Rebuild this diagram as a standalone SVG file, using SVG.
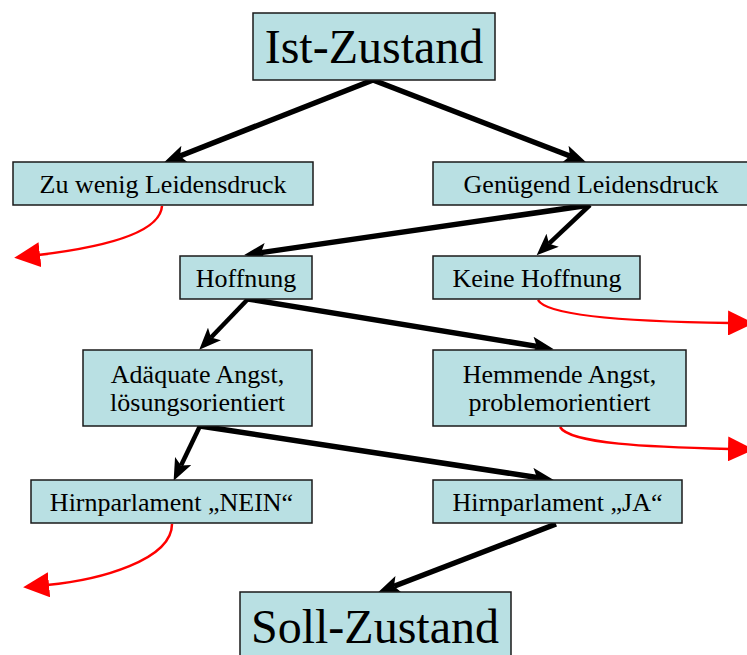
<svg xmlns="http://www.w3.org/2000/svg" width="747" height="655" viewBox="0 0 747 655">
<style>
.box{fill:#B9E0E3;stroke:#1a1a1a;stroke-width:1.5}
.t{font-family:"Liberation Serif","Times New Roman",serif;font-size:26px;fill:#000;text-anchor:middle}
.big{font-size:48px}
.blk{stroke:#000;stroke-width:5.5;fill:none;marker-end:url(#ah)}
.red{stroke:#ff0000;stroke-width:2.5;fill:none;marker-end:url(#rh)}
</style>
<defs>
<marker id="ah" markerUnits="userSpaceOnUse" viewBox="0 0 22 18" refX="5" refY="9" markerWidth="22" markerHeight="18" orient="auto">
<path d="M0,0 L22,9 L0,18 L5,9 z" fill="#000"/>
</marker>
<marker id="rh" markerUnits="userSpaceOnUse" viewBox="0 0 26 25" refX="2" refY="12.5" markerWidth="26" markerHeight="25" orient="auto">
<path d="M0,0 L26,12.5 L0,25 z" fill="#ff0000"/>
</marker>
</defs>
<g id="connectors">
<line class="blk" x1="373" y1="80" x2="180" y2="156"/>
<line class="blk" x1="373" y1="80" x2="570" y2="156"/>
<line class="blk" x1="590" y1="205" x2="261" y2="252.6"/>
<line class="blk" x1="590" y1="205" x2="549" y2="243.7" style="stroke-width:4.5"/>
<line class="blk" x1="248" y1="299" x2="211" y2="337.5" style="stroke-width:4.5"/>
<line class="blk" x1="248" y1="299" x2="537" y2="346.4"/>
<line class="blk" x1="200" y1="426" x2="181" y2="465.5" style="stroke-width:4.5"/>
<line class="blk" x1="200" y1="426" x2="537" y2="477.5"/>
<line class="blk" x1="556" y1="524" x2="394" y2="586.2"/>
<path class="red" d="M162,206 C160,238 80,250 38,255"/>
<path class="red" d="M538,300 C548,318 650,322 730,323"/>
<path class="red" d="M560,427 C570,444 650,447 730,449"/>
<path class="red" d="M172,524 C172,560 100,580 47,585"/>
</g>
<g id="ist"><rect class="box" x="253" y="13" width="242" height="67"/><text class="t big" x="374" y="63">Ist-Zustand</text></g>
<g id="zuwenig"><rect class="box" x="13" y="162" width="300" height="43"/><text class="t" x="163" y="193">Zu wenig Leidensdruck</text></g>
<g id="genuegend"><rect class="box" x="433" y="162" width="330" height="43"/><text class="t" x="591" y="193">Genügend Leidensdruck</text></g>
<g id="hoffnung"><rect class="box" x="180" y="256" width="132" height="43"/><text class="t" x="246" y="287">Hoffnung</text></g>
<g id="keinehoffnung"><rect class="box" x="433" y="256" width="207" height="43"/><text class="t" x="537" y="287">Keine Hoffnung</text></g>
<g id="adaequat"><rect class="box" x="83" y="350" width="229" height="76"/><text class="t" x="197.5" y="383">Adäquate Angst,</text><text class="t" x="197.5" y="411">lösungsorientiert</text></g>
<g id="hemmend"><rect class="box" x="433" y="350" width="253" height="76"/><text class="t" x="559.5" y="383">Hemmende Angst,</text><text class="t" x="559.5" y="411">problemorientiert</text></g>
<g id="nein"><rect class="box" x="31" y="480" width="281" height="43"/><text class="t" x="171.5" y="511">Hirnparlament „NEIN“</text></g>
<g id="ja"><rect class="box" x="433" y="480" width="249" height="43"/><text class="t" x="557.5" y="511">Hirnparlament „JA“</text></g>
<g id="soll"><rect class="box" x="240" y="592" width="271" height="75"/><text class="t big" x="375" y="643">Soll-Zustand</text></g>
</svg>
